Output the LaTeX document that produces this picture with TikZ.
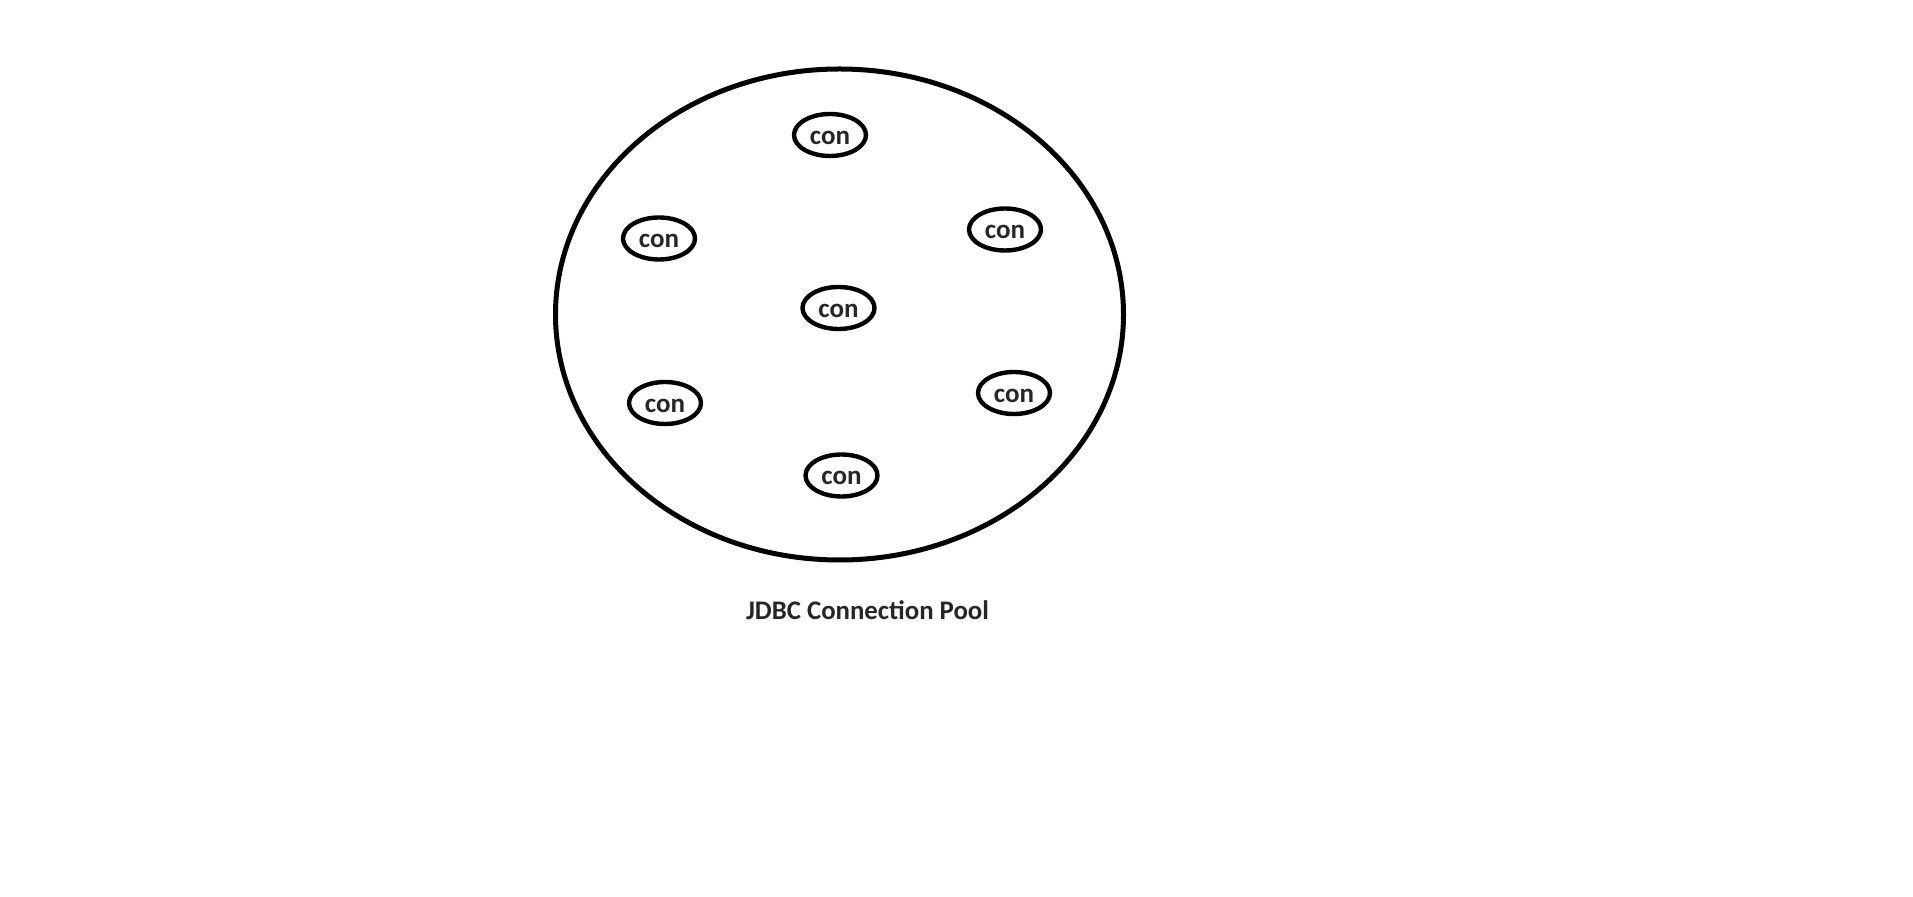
\documentclass[tikz,border=0pt]{standalone}
\usepackage{fontspec}
\setmainfont{Carlito}
\usepackage{tikz}
\usetikzlibrary{shapes.geometric, positioning}

\begin{document}
\begin{tikzpicture}[x=0.5pt, y=-0.5pt, font=\bfseries]

\useasboundingbox (0,0) rectangle (1913,897);

\tikzset{
  poolrim/.style={ellipse, draw, line width=2.5pt, inner sep=0pt,
    minimum width=284pt, minimum height=245.5pt},
  conbox/.style={ellipse, draw, line width=2.2pt, inner sep=0pt,
    minimum width=36pt, minimum height=21pt, text height=9.3pt, text depth=0pt,
    font=\fontsize{13.5}{15}\selectfont\bfseries, text=black!85}
}

\node[poolrim] (pool) at (839.5,314.5) {};

%-- the seven connections inside the pool
\foreach \nm/\px/\py in {conTop/830/135, conLeft/659/238.5,
    conRight/1005/229.5, conMid/838.5/308, conLowLeft/665/403,
    conLowRight/1014/393, conBottom/841.5/475.5}
  \node[conbox] (\nm) at (\px,\py) {con};

\node[anchor=base, font=\fontsize{13.4}{15}\selectfont\bfseries, text=black!85]
  (poolname) at (867.5,619.5) {JDBC Connection Pool};

\end{tikzpicture}
\end{document}
